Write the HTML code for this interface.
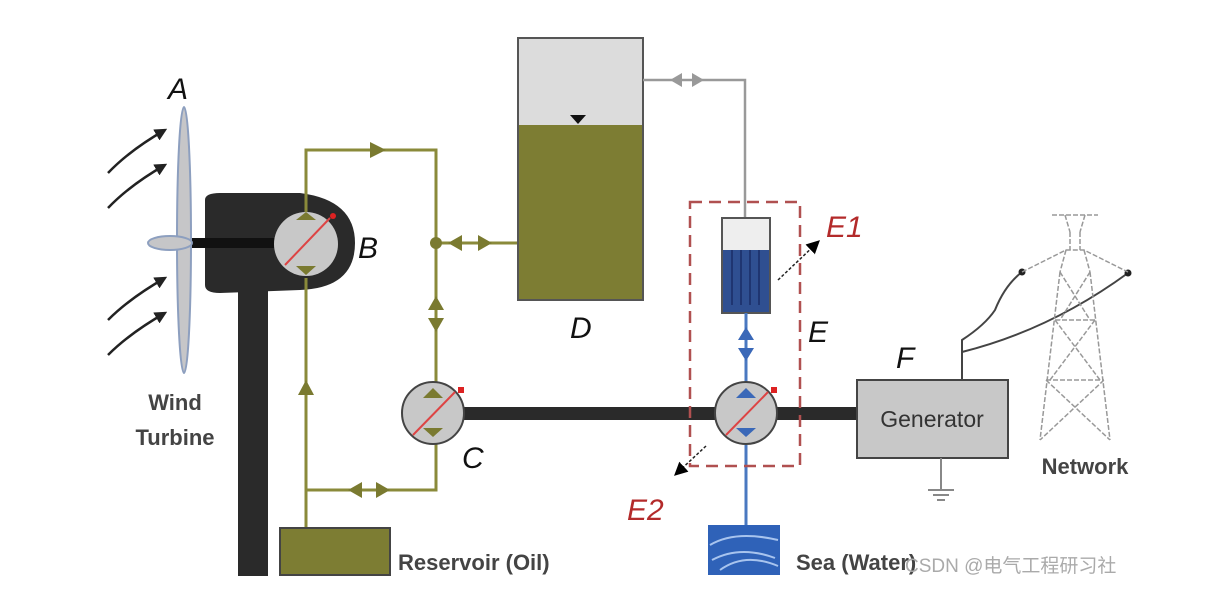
<!DOCTYPE html>
<html><head><style>body{margin:0;background:#fff}svg{display:block}</style></head><body>
<svg width="1210" height="608" viewBox="0 0 1210 608" xmlns="http://www.w3.org/2000/svg" font-family="Liberation Sans, sans-serif">
<rect width="1210" height="608" fill="#fff"/>
<defs>
<marker id="ar" viewBox="0 0 10 10" refX="8" refY="5" markerWidth="5" markerHeight="5" orient="auto"><path d="M0,0L10,5L0,10z" fill="#222"/></marker>
<marker id="ab" viewBox="0 0 10 10" refX="8" refY="5" markerWidth="9" markerHeight="9" orient="auto"><path d="M0,0L10,5L0,10z" fill="#000"/></marker>
</defs>
<g stroke="#222" stroke-width="2.5" fill="none" marker-end="url(#ar)">
<path d="M108,173 Q130,150 165,130"/><path d="M108,208 Q130,185 165,165"/>
<path d="M108,320 Q130,298 165,278"/><path d="M108,355 Q130,333 165,313"/>
</g>
<rect x="238" y="280" width="30" height="296" fill="#2a2a2a"/>
<path d="M205,200 Q205,193 220,193 L300,193 Q355,200 355,243 Q355,288 300,290 L220,293 Q205,293 205,285 Z" fill="#2a2a2a"/>
<rect x="185" y="238" width="90" height="10" fill="#111"/>
<ellipse cx="184" cy="240" rx="7" ry="133" fill="#c6c6c8" stroke="#8d9fbf" stroke-width="2"/>
<ellipse cx="170" cy="243" rx="22" ry="7" fill="#c6c6c8" stroke="#8d9fbf" stroke-width="2"/>
<g stroke="#8a8a3a" stroke-width="3" fill="none">
<path d="M306,212 V150 H436 V490 H306 V278"/>
<path d="M436,243 H518"/>
<path d="M306,490 V528"/>
</g>
<circle cx="436" cy="243" r="6" fill="#7a7a30"/>
<g fill="#7a7a30">
<path d="M370,142 L386,150 L370,158z"/>
<path d="M462,235 L448,243 L462,251z"/><path d="M478,235 L492,243 L478,251z"/>
<path d="M428,310 L436,296 L444,310z"/><path d="M428,318 L436,332 L444,318z"/>
<path d="M298,395 L306,380 L314,395z"/>
<path d="M362,482 L348,490 L362,498z"/><path d="M376,482 L390,490 L376,498z"/>
</g>
<circle cx="306" cy="244" r="32" fill="#c8c8c8"/>
<path d="M296,220 L316,220 L306,212z M296,266 L316,266 L306,275z" fill="#7a7a30"/>
<line x1="285" y1="265" x2="330" y2="218" stroke="#d44" stroke-width="2"/>
<circle cx="333" cy="216" r="3" fill="#d22"/>
<rect x="460" y="407" width="400" height="13" fill="#2a2a2a"/>
<circle cx="433" cy="413" r="31" fill="#c8c8c8" stroke="#444" stroke-width="2"/>
<path d="M423,398 L443,398 L433,388z M423,428 L443,428 L433,437z" fill="#7a7a30"/>
<line x1="413" y1="435" x2="455" y2="392" stroke="#d44" stroke-width="2"/>
<rect x="458" y="387" width="6" height="6" fill="#d22"/>
<rect x="518" y="38" width="125" height="262" fill="#7d7d33" stroke="#555" stroke-width="2"/>
<rect x="519" y="39" width="123" height="86" fill="#dcdcdc"/>
<path d="M570,115 L586,115 L578,124z" fill="#111"/>
<path d="M643,80 H745 V218" stroke="#999" stroke-width="2.5" fill="none"/>
<path d="M682,73 L670,80 L682,87z M692,73 L704,80 L692,87z" fill="#999"/>
<rect x="722" y="218" width="48" height="95" fill="#2f4f91" stroke="#555" stroke-width="2"/>
<rect x="723" y="219" width="46" height="31" fill="#eee"/>
<g stroke="#1a2d66" stroke-width="1.5"><line x1="732" y1="250" x2="732" y2="305"/><line x1="741" y1="250" x2="741" y2="305"/><line x1="750" y1="250" x2="750" y2="305"/><line x1="759" y1="250" x2="759" y2="305"/></g>
<g stroke="#4a78c0" stroke-width="3"><line x1="746" y1="313" x2="746" y2="385"/><line x1="746" y1="445" x2="746" y2="527"/></g>
<path d="M738,340 L746,327 L754,340z M738,348 L746,361 L754,348z" fill="#3a68b8"/>
<circle cx="746" cy="413" r="31" fill="#c8c8c8" stroke="#444" stroke-width="2"/>
<path d="M736,398 L756,398 L746,388z M736,428 L756,428 L746,437z" fill="#3a68b8"/>
<line x1="726" y1="435" x2="768" y2="392" stroke="#d44" stroke-width="2"/>
<rect x="771" y="387" width="6" height="6" fill="#d22"/>
<rect x="690" y="202" width="110" height="264" fill="none" stroke="#b05050" stroke-width="2.5" stroke-dasharray="12,7"/>
<line x1="778" y1="280" x2="818" y2="242" stroke="#222" stroke-width="1.5" stroke-dasharray="3,2" marker-end="url(#ab)"/>
<line x1="706" y1="446" x2="676" y2="474" stroke="#222" stroke-width="1.5" stroke-dasharray="3,2" marker-end="url(#ab)"/>
<rect x="708" y="525" width="72" height="50" fill="#2f62b8"/>
<path d="M710,545 Q735,530 778,540 M712,560 Q740,545 775,558 M720,570 Q745,552 778,566" stroke="#a8c4ee" stroke-width="2" fill="none"/>
<rect x="280" y="528" width="110" height="47" fill="#7d7d33" stroke="#444" stroke-width="2"/>
<rect x="857" y="380" width="151" height="78" fill="#c8c8c8" stroke="#444" stroke-width="2"/>
<text x="932" y="427" font-size="23" text-anchor="middle" fill="#333">Generator</text>
<g stroke="#888" stroke-width="2"><line x1="941" y1="458" x2="941" y2="490"/><line x1="928" y1="490" x2="954" y2="490"/><line x1="933" y1="495" x2="949" y2="495"/><line x1="937" y1="500" x2="945" y2="500"/></g>
<path d="M962,380 V340 Q985,325 995,310 Q1005,285 1022,272" stroke="#444" stroke-width="2" fill="none"/>
<path d="M962,352 Q1050,330 1128,273" stroke="#444" stroke-width="2" fill="none"/>
<circle cx="1022" cy="272" r="3.5" fill="#222"/><circle cx="1128" cy="273" r="3.5" fill="#222"/>
<g stroke="#999" stroke-width="1.5" fill="none" stroke-dasharray="5,2">
<path d="M1052,215 L1098,215 M1065,215 L1070,232 M1085,215 L1080,232 M1070,232 V250 M1080,232 V250"/>
<path d="M1022,272 L1066,250 L1084,250 L1128,272 M1066,250 L1060,272 M1084,250 L1090,272"/>
<path d="M1060,272 L1040,440 M1090,272 L1110,440 M1060,272 L1090,320 M1090,272 L1060,320 M1055,320 L1095,320 M1055,320 L1100,380 M1095,320 L1050,380 M1046,380 L1104,380 M1046,380 L1110,440 M1104,380 L1040,440"/>
</g>
<g font-style="italic" font-size="30" fill="#111">
<text x="168" y="99">A</text><text x="358" y="258">B</text><text x="462" y="468">C</text>
<text x="570" y="338">D</text><text x="808" y="342">E</text><text x="896" y="368">F</text>
</g>
<g font-style="italic" font-size="30" fill="#b32a2a"><text x="826" y="237">E1</text><text x="627" y="520">E2</text></g>
<g font-weight="bold" font-size="22" fill="#444">
<text x="175" y="410" text-anchor="middle">Wind</text><text x="175" y="445" text-anchor="middle">Turbine</text>
<text x="398" y="570">Reservoir (Oil)</text><text x="796" y="570">Sea (Water)</text>
<text x="1085" y="474" text-anchor="middle">Network</text>
</g>
<text x="905" y="572" font-size="19" fill="#aaa" font-family="Liberation Sans, Noto Sans CJK SC, sans-serif">CSDN @电气工程研习社</text>
</svg>
</body></html>
